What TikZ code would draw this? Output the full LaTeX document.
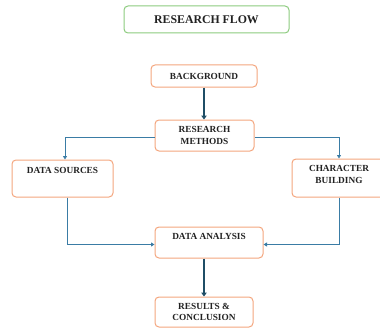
\documentclass[tikz,border=0pt]{standalone}
\usepackage{fontspec}
\setmainfont{Liberation Serif}
\usetikzlibrary{arrows.meta}
\definecolor{boxor}{HTML}{F4A67E}
\definecolor{boxgr}{HTML}{8CCB7E}
\definecolor{conn}{HTML}{3A7CA5}
\definecolor{thick}{HTML}{1F4E66}
\definecolor{txt}{HTML}{222222}
\tikzset{
  box/.style={draw=boxor, line width=1pt, rounded corners=4pt, fill=white, inner sep=0pt, align=center, text=txt, font=\fontsize{9.3}{11.5}\selectfont\bfseries},
  titlebox/.style={draw=boxgr, line width=1pt, rounded corners=4pt, fill=white, inner sep=0pt, text=txt, font=\fontsize{11.8}{14}\selectfont\bfseries},
  toptext/.style={anchor=north, text=txt, font=\fontsize{9.3}{11.5}\selectfont\bfseries, align=center, inner sep=0pt},
  conline/.style={draw=conn, line width=0.8pt, -{Triangle[width=4pt,length=3.5pt]}},
  bigarrow/.style={draw=thick, line width=2.4pt, -{Triangle[width=5.5pt,length=4pt]}}
}
\begin{document}
\begin{tikzpicture}[x=1pt,y=-1pt]
\useasboundingbox (0,0) rectangle (380,329);
\node[titlebox, minimum width=165pt, minimum height=27pt] (title) at (206.5,19.5) {RESEARCH FLOW};
\node[box, minimum width=106pt, minimum height=22pt] (bg) at (204,76) {BACKGROUND};
\node[box, minimum width=99pt, minimum height=31pt] (met) at (204.5,135.5) {RESEARCH\\METHODS};
\node[box, minimum width=101pt, minimum height=37pt, label={[toptext, yshift=-8pt]north:DATA SOURCES}] (ds) at (62.5,178.5) {};
\node[box, minimum width=94pt, minimum height=38pt, label={[toptext, yshift=-7pt]north:CHARACTER\\BUILDING}] (cb) at (339,178) {};
\node[box, minimum width=108pt, minimum height=31pt, label={[toptext, yshift=-7pt]north:DATA ANALYSIS}] (da) at (209,242.5) {};
\node[box, minimum width=98pt, minimum height=30pt] (res) at (204,312) {RESULTS \&\\CONCLUSION};
\draw[bigarrow] (bg.south) -- (bg.south |- met.north);
\draw[bigarrow] (da.south -| res.north) -- (res.north);
\draw[conline] ([yshift=-1.5pt]met.west) -| ([xshift=2.5pt]ds.north);
\draw[conline] ([yshift=-1.5pt]met.east) -| (cb.north);
\draw[conline] ([xshift=4.5pt]ds.south) |- ([yshift=-2pt]da.west);
\draw[conline] (cb.south) |- ([yshift=-2pt]da.east);
\end{tikzpicture}
\end{document}
